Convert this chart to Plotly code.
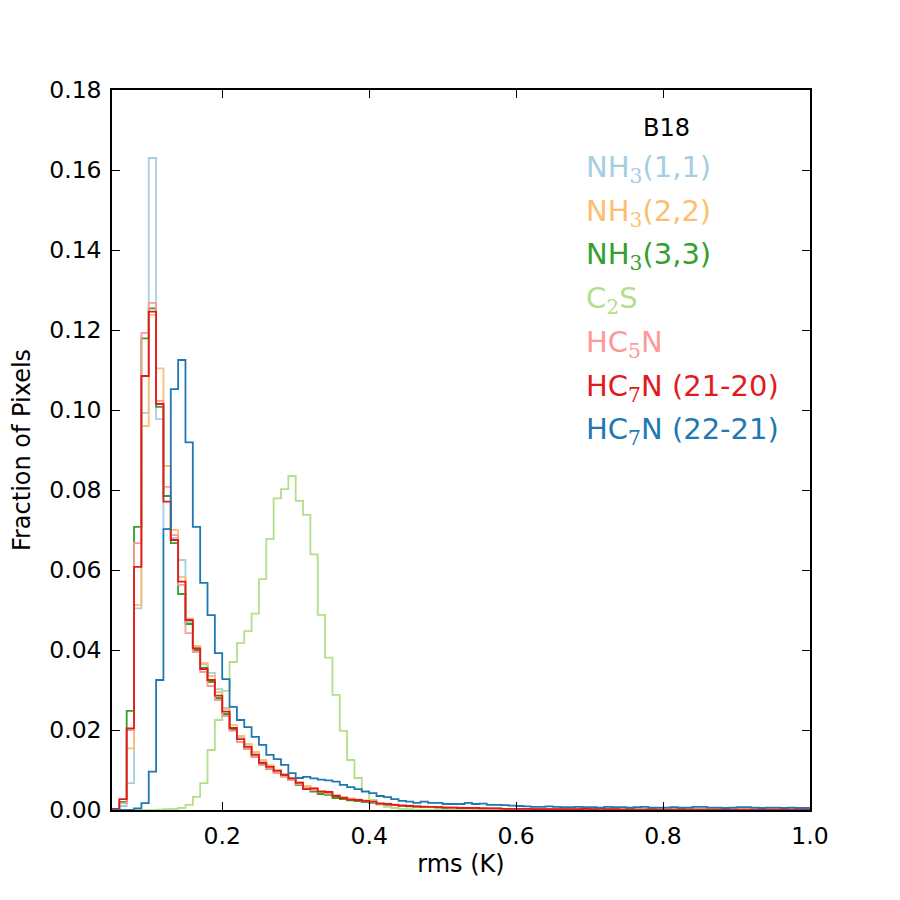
import numpy as np
import plotly.graph_objects as go

# histogram bins: 0.05 .. 1.00, width 0.01
bin_start = 0.05
bin_width = 0.01
n_bins = 95

nh3_11 = [
    0.0000, 0.0010, 0.0067, 0.0504, 0.0993, 0.1630, 0.0977, 0.0702, 0.0680, 0.0625,
    0.0470, 0.0405, 0.0365, 0.0343, 0.0302, 0.0255, 0.0205, 0.0182, 0.0163, 0.0142,
    0.0122, 0.0110, 0.0100, 0.0090, 0.0080, 0.0070, 0.0060, 0.0053, 0.0047, 0.0043,
    0.0037, 0.0032, 0.0028, 0.0026, 0.0023, 0.0021, 0.0017, 0.0015, 0.0013, 0.0012,
    0.0011, 0.0010, 0.0009, 0.0008, 0.0007, 0.0006, 0.0006, 0.0005, 0.0005, 0.0005,
    0.0004, 0.0004, 0.0004, 0.0003, 0.0003, 0.0003, 0.0003, 0.0002, 0.0002, 0.0002,
    0.0002, 0.0002, 0.0002, 0.0002, 0.0002, 0.0002, 0.0002, 0.0001, 0.0002, 0.0001,
    0.0001, 0.0001, 0.0001, 0.0001, 0.0001, 0.0001, 0.0001, 0.0001, 0.0001, 0.0001,
    0.0001, 0.0001, 0.0001, 0.0001, 0.0001, 0.0001, 0.0001, 0.0001, 0.0001, 0.0001,
    0.0001, 0.0001, 0.0001, 0.0001, 0.0001,
]
nh3_22 = [
    0.0003, 0.0018, 0.0154, 0.0513, 0.0960, 0.1238, 0.1104, 0.0860, 0.0700, 0.0583,
    0.0479, 0.0410, 0.0367, 0.0335, 0.0295, 0.0252, 0.0212, 0.0185, 0.0165, 0.0145,
    0.0125, 0.0112, 0.0100, 0.0090, 0.0080, 0.0070, 0.0060, 0.0054, 0.0048, 0.0044,
    0.0038, 0.0033, 0.0029, 0.0026, 0.0024, 0.0022, 0.0018, 0.0016, 0.0014, 0.0012,
    0.0011, 0.0010, 0.0009, 0.0008, 0.0007, 0.0007, 0.0006, 0.0006, 0.0005, 0.0005,
    0.0004, 0.0004, 0.0004, 0.0003, 0.0003, 0.0003, 0.0003, 0.0002, 0.0002, 0.0002,
    0.0002, 0.0002, 0.0002, 0.0002, 0.0002, 0.0002, 0.0002, 0.0002, 0.0001, 0.0002,
    0.0001, 0.0001, 0.0001, 0.0001, 0.0001, 0.0001, 0.0001, 0.0001, 0.0001, 0.0001,
    0.0001, 0.0001, 0.0001, 0.0001, 0.0001, 0.0001, 0.0001, 0.0001, 0.0001, 0.0001,
    0.0001, 0.0001, 0.0001, 0.0001, 0.0001,
]
nh3_33 = [
    0.0000, 0.0020, 0.0248, 0.0708, 0.1179, 0.1254, 0.1008, 0.0785, 0.0667, 0.0540,
    0.0465, 0.0400, 0.0355, 0.0320, 0.0280, 0.0240, 0.0200, 0.0170, 0.0152, 0.0132,
    0.0115, 0.0102, 0.0093, 0.0085, 0.0075, 0.0062, 0.0052, 0.0046, 0.0040, 0.0038,
    0.0030, 0.0027, 0.0024, 0.0022, 0.0020, 0.0018, 0.0015, 0.0013, 0.0012, 0.0010,
    0.0009, 0.0008, 0.0007, 0.0007, 0.0006, 0.0005, 0.0005, 0.0005, 0.0004, 0.0004,
    0.0004, 0.0003, 0.0003, 0.0003, 0.0003, 0.0002, 0.0002, 0.0002, 0.0002, 0.0002,
    0.0001, 0.0002, 0.0001, 0.0001, 0.0001, 0.0001, 0.0001, 0.0001, 0.0001, 0.0001,
    0.0001, 0.0001, 0.0001, 0.0001, 0.0001, 0.0001, 0.0001, 0.0001, 0.0001, 0.0001,
    0.0001, 0.0001, 0.0001, 0.0001, 0.0001, 0.0001, 0.0001, 0.0001, 0.0001, 0.0001,
    0.0001, 0.0001, 0.0001, 0.0001, 0.0001,
]
c2s = [
    0.0000, 0.0000, 0.0000, 0.0000, 0.0000, 0.0000, 0.0001, 0.0002, 0.0003, 0.0005,
    0.0013, 0.0033, 0.0067, 0.0150, 0.0225, 0.0298, 0.0370, 0.0417, 0.0447, 0.0491,
    0.0577, 0.0678, 0.0779, 0.0802, 0.0835, 0.0773, 0.0738, 0.0639, 0.0488, 0.0381,
    0.0288, 0.0198, 0.0125, 0.0080, 0.0047, 0.0025, 0.0013, 0.0008, 0.0005, 0.0003,
    0.0002, 0.0001, 0.0001, 0.0001, 0.0001, 0.0000, 0.0000, 0.0000, 0.0000, 0.0000,
    0.0000, 0.0000, 0.0000, 0.0000, 0.0000, 0.0000, 0.0000, 0.0000, 0.0000, 0.0000,
    0.0000, 0.0000, 0.0000, 0.0000, 0.0000, 0.0000, 0.0000, 0.0000, 0.0000, 0.0000,
    0.0000, 0.0000, 0.0000, 0.0000, 0.0000, 0.0000, 0.0000, 0.0000, 0.0000, 0.0000,
    0.0000, 0.0000, 0.0000, 0.0000, 0.0000, 0.0000, 0.0000, 0.0000, 0.0000, 0.0000,
    0.0000, 0.0000, 0.0000, 0.0000, 0.0000,
]
hc5n = [
    0.0000, 0.0017, 0.0200, 0.0667, 0.1193, 0.1268, 0.1023, 0.0808, 0.0687, 0.0563,
    0.0442, 0.0395, 0.0345, 0.0310, 0.0275, 0.0235, 0.0198, 0.0170, 0.0152, 0.0132,
    0.0112, 0.0103, 0.0093, 0.0083, 0.0075, 0.0064, 0.0056, 0.0050, 0.0045, 0.0041,
    0.0035, 0.0031, 0.0027, 0.0025, 0.0022, 0.0020, 0.0016, 0.0014, 0.0012, 0.0011,
    0.0010, 0.0009, 0.0008, 0.0007, 0.0007, 0.0006, 0.0005, 0.0005, 0.0005, 0.0004,
    0.0004, 0.0004, 0.0003, 0.0003, 0.0003, 0.0002, 0.0002, 0.0002, 0.0002, 0.0002,
    0.0002, 0.0002, 0.0001, 0.0002, 0.0001, 0.0001, 0.0001, 0.0001, 0.0001, 0.0001,
    0.0001, 0.0001, 0.0001, 0.0001, 0.0001, 0.0001, 0.0001, 0.0001, 0.0001, 0.0001,
    0.0001, 0.0001, 0.0001, 0.0001, 0.0001, 0.0001, 0.0001, 0.0001, 0.0001, 0.0001,
    0.0001, 0.0001, 0.0001, 0.0001, 0.0001,
]
hc7n_2120 = [
    0.0003, 0.0027, 0.0204, 0.0608, 0.1085, 0.1246, 0.1015, 0.0771, 0.0675, 0.0571,
    0.0475, 0.0404, 0.0352, 0.0325, 0.0286, 0.0246, 0.0205, 0.0177, 0.0158, 0.0138,
    0.0118, 0.0108, 0.0098, 0.0088, 0.0079, 0.0068, 0.0052, 0.0054, 0.0046, 0.0045,
    0.0035, 0.0030, 0.0026, 0.0025, 0.0023, 0.0021, 0.0016, 0.0015, 0.0013, 0.0011,
    0.0010, 0.0009, 0.0008, 0.0008, 0.0007, 0.0006, 0.0006, 0.0005, 0.0005, 0.0005,
    0.0004, 0.0004, 0.0004, 0.0003, 0.0003, 0.0003, 0.0003, 0.0002, 0.0002, 0.0002,
    0.0002, 0.0002, 0.0002, 0.0002, 0.0003, 0.0002, 0.0003, 0.0002, 0.0002, 0.0001,
    0.0002, 0.0001, 0.0001, 0.0002, 0.0001, 0.0001, 0.0001, 0.0002, 0.0001, 0.0001,
    0.0001, 0.0001, 0.0001, 0.0001, 0.0001, 0.0001, 0.0001, 0.0001, 0.0001, 0.0001,
    0.0001, 0.0001, 0.0001, 0.0001, 0.0001,
]
hc7n_2221 = [
    0.0000, 0.0000, 0.0000, 0.0004, 0.0017, 0.0096, 0.0325, 0.0702, 0.1052, 0.1125,
    0.0919, 0.0708, 0.0568, 0.0487, 0.0392, 0.0327, 0.0258, 0.0225, 0.0207, 0.0183,
    0.0163, 0.0138, 0.0127, 0.0113, 0.0092, 0.0080, 0.0083, 0.0079, 0.0076, 0.0074,
    0.0071, 0.0063, 0.0057, 0.0052, 0.0046, 0.0042, 0.0035, 0.0032, 0.0027, 0.0023,
    0.0021, 0.0018, 0.0021, 0.0018, 0.0018, 0.0015, 0.0015, 0.0015, 0.0018, 0.0015,
    0.0016, 0.0013, 0.0013, 0.0012, 0.0011, 0.0010, 0.0009, 0.0008, 0.0008, 0.0009,
    0.0008, 0.0007, 0.0007, 0.0008, 0.0007, 0.0007, 0.0006, 0.0008, 0.0007, 0.0007,
    0.0006, 0.0007, 0.0008, 0.0006, 0.0006, 0.0006, 0.0007, 0.0006, 0.0006, 0.0008,
    0.0008, 0.0006, 0.0006, 0.0005, 0.0006, 0.0007, 0.0007, 0.0006, 0.0005, 0.0006,
    0.0006, 0.0005, 0.0006, 0.0005, 0.0005,
]

serif = "font-family:DejaVu Serif"
series = [
    ("NH<sub><span style='%s'>3</span></sub>(1,1)" % serif, nh3_11, "#a6cee3"),
    ("NH<sub><span style='%s'>3</span></sub>(2,2)" % serif, nh3_22, "#fdbf6f"),
    ("NH<sub><span style='%s'>3</span></sub>(3,3)" % serif, nh3_33, "#33a02c"),
    ("C<sub><span style='%s'>2</span></sub>S" % serif, c2s, "#b2df8a"),
    ("HC<sub><span style='%s'>5</span></sub>N" % serif, hc5n, "#fb9a99"),
    ("HC<sub><span style='%s'>7</span></sub>N (21-20)" % serif, hc7n_2120, "#e31a1c"),
    ("HC<sub><span style='%s'>7</span></sub>N (22-21)" % serif, hc7n_2221, "#1f78b4"),
]

edges = np.round(bin_start + bin_width * np.arange(n_bins + 1), 4)

fig = go.Figure()
for name, vals, col in series:
    assert len(vals) == n_bins
    xs = [edges[0]] + list(edges) + [edges[-1]]
    ys = [0.0] + list(vals) + [vals[-1], 0.0]
    fig.add_trace(go.Scatter(x=xs, y=ys, mode="lines", line=dict(color=col, width=1.8, shape="hv"),
                             showlegend=False, hoverinfo="skip"))

FONT = "DejaVu Sans"
annotations = [dict(text="B18", x=0.795, y=(810 - 128) / 720, xref="paper", yref="paper",
                    xanchor="center", yanchor="middle", showarrow=False,
                    font=dict(family=FONT, size=24, color="black"))]
for k, (name, vals, col) in enumerate(series):
    ypx = 169 + k * 43.7
    annotations.append(dict(text=name, x=(584 - 112) / 698, y=(810 - ypx) / 720,
                            xref="paper", yref="paper", xanchor="left", yanchor="middle",
                            showarrow=False, font=dict(family=FONT, size=29, color=col)))

axis_common = dict(showgrid=False, zeroline=False, showline=True, linecolor="black", linewidth=1.5,
                   mirror="allticks", ticks="inside", ticklen=8, tickwidth=1, tickcolor="black",
                   ticklabelstandoff=4,
                   tickfont=dict(family=FONT, size=23.5, color="black"))

fig.update_layout(
    width=900, height=900,
    margin=dict(l=112, r=90, t=90, b=90),
    paper_bgcolor="white", plot_bgcolor="white",
    font=dict(family=FONT, color="black"),
    annotations=annotations,
    xaxis=dict(range=[0.05, 1.0], tickvals=[0.2, 0.4, 0.6, 0.8, 1.0],
               ticktext=["0.2", "0.4", "0.6", "0.8", "1.0"],
               title=dict(text="rms (K)", font=dict(family=FONT, size=24), standoff=4),
               **axis_common),
    yaxis=dict(range=[0, 0.18], tickvals=[0, 0.02, 0.04, 0.06, 0.08, 0.10, 0.12, 0.14, 0.16, 0.18],
               ticktext=["0.00", "0.02", "0.04", "0.06", "0.08", "0.10", "0.12", "0.14", "0.16", "0.18"],
               title=dict(text="Fraction of Pixels", font=dict(family=FONT, size=24), standoff=12),
               **axis_common),
)

fig.write_html("out.html")
